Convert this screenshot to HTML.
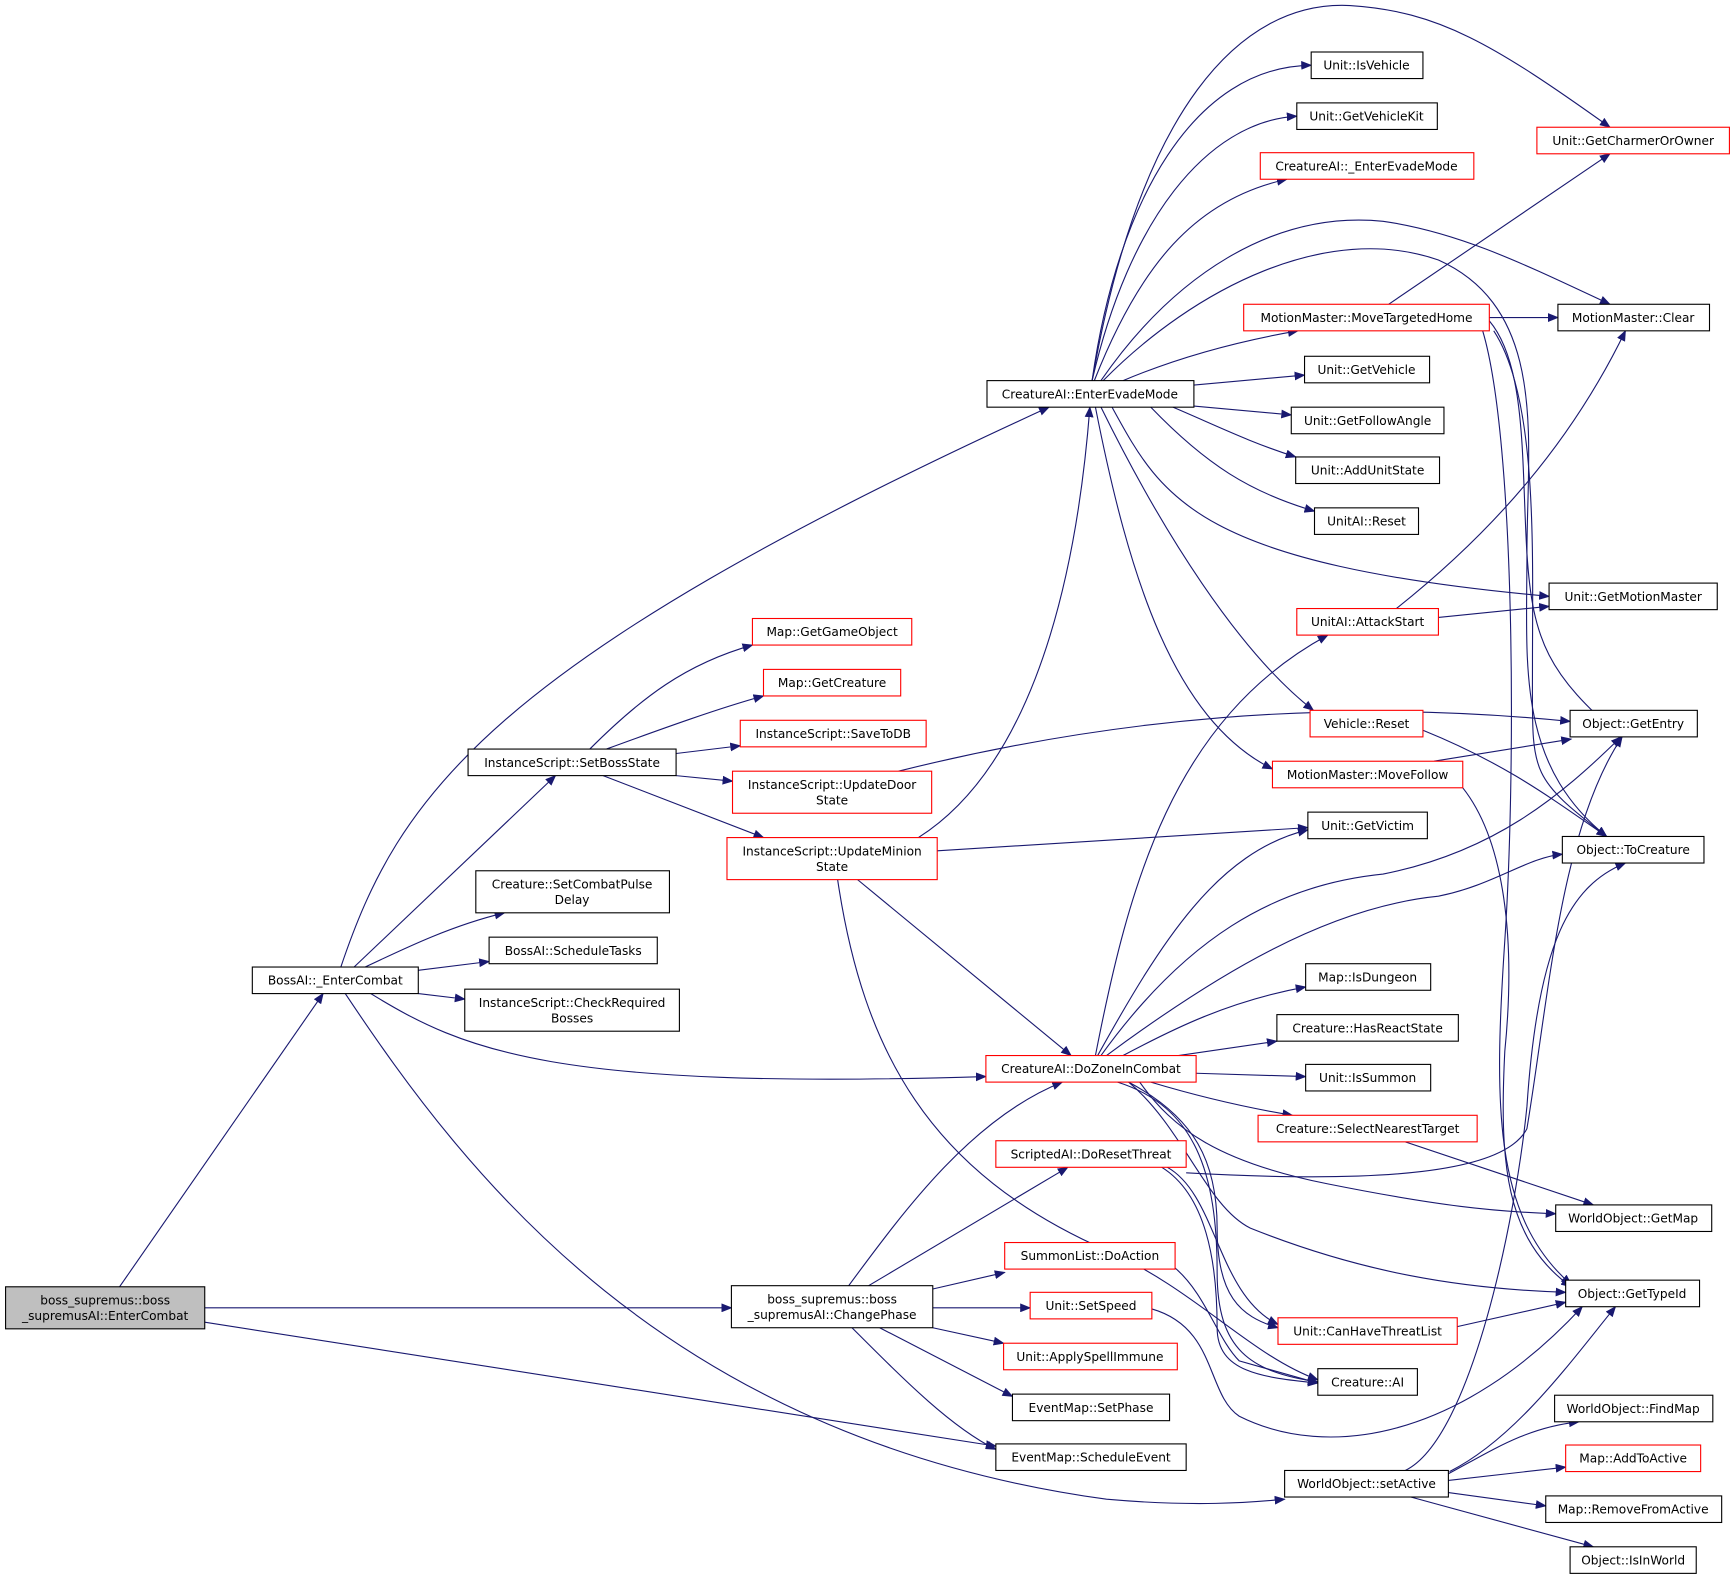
<!DOCTYPE html>
<html><head><meta charset="utf-8"><style>
html,body{margin:0;padding:0;background:#fff;}
svg{display:block}
text{font-family:"DejaVu Sans","Liberation Sans",sans-serif;font-size:11px;fill:#000;text-anchor:middle}
.b{fill:#fff;stroke:#000;stroke-width:1}
.r{fill:#fff;stroke:#f00;stroke-width:1}
.e{fill:none;stroke:#191970;stroke-width:1;marker-end:url(#a)}
</style></head><body>
<svg width="1735" height="1580" viewBox="0 0 1568 1428" xmlns="http://www.w3.org/2000/svg">
<defs><marker id="a" markerWidth="10" markerHeight="8" refX="9" refY="4" orient="auto" markerUnits="userSpaceOnUse"><path d="M0,0 L10,4 L0,8 z" fill="#191970"/></marker></defs>

<!-- edges -->
<path class="e" d="M108,1163 L292,898"/>
<path class="e" d="M185,1182 L661,1182"/>
<path class="e" d="M185,1195 L900,1307"/>
<path class="e" d="M308,874 C360,720 440,600 948,368"/>
<path class="e" d="M320,874 L502,701"/>
<path class="e" d="M330,874 C370,855 410,836 456,825"/>
<path class="e" d="M378,877 L442,869"/>
<path class="e" d="M378,898 L420,903"/>
<path class="e" d="M335,898 C420,950 500,985 891,973"/>
<path class="e" d="M312,898 C420,1060 600,1300 1000,1355 C1080,1362 1130,1358 1161,1355"/>
<path class="e" d="M533,677 C580,630 620,600 680,583"/>
<path class="e" d="M548,677 C600,658 650,640 690,629"/>
<path class="e" d="M611,681 L669,674"/>
<path class="e" d="M611,701 L662,706"/>
<path class="e" d="M545,701 L690,757"/>
<path class="e" d="M812,697 C1000,650 1200,630 1419,652"/>
<path class="e" d="M830,757 C920,700 970,560 985,368"/>
<path class="e" d="M847,769 L1182,748"/>
<path class="e" d="M775,795 L968,954"/>
<path class="e" d="M757,795 C780,950 840,1060 1000,1130 C1080,1165 1130,1225 1191,1247"/>
<path class="e" d="M987,344 C1010,180 1080,60 1185,59"/>
<path class="e" d="M987,344 C1020,200 1090,110 1172,105"/>
<path class="e" d="M989,344 C1030,240 1080,180 1163,162"/>
<path class="e" d="M987,344 C1030,100 1120,0 1220,5 C1300,10 1350,40 1455,115"/>
<path class="e" d="M995,344 C1060,250 1150,190 1250,200 C1320,210 1380,240 1455,275"/>
<path class="e" d="M997,344 C1080,260 1200,200 1300,235 C1400,280 1380,400 1380,500 C1380,600 1370,690 1452,756"/>
<path class="e" d="M1015,344 C1060,325 1110,310 1173,299"/>
<path class="e" d="M1079,348 L1179,339"/>
<path class="e" d="M1079,367 L1167,375"/>
<path class="e" d="M1060,368 C1100,385 1130,400 1171,413"/>
<path class="e" d="M1040,368 C1090,420 1130,445 1188,462"/>
<path class="e" d="M1005,368 C1050,450 1080,510 1400,539"/>
<path class="e" d="M995,368 C1050,480 1120,590 1187,642"/>
<path class="e" d="M990,368 C1020,520 1060,650 1150,695"/>
<path class="e" d="M1346,287 L1408,287"/>
<path class="e" d="M1255,275 L1455,139"/>
<path class="e" d="M1346,290 C1380,330 1375,420 1380,500 C1385,580 1400,610 1465,666"/>
<path class="e" d="M1350,299 C1390,360 1385,500 1385,600 C1385,700 1380,700 1452,756"/>
<path class="e" d="M1340,299 C1370,400 1370,700 1360,850 C1350,1000 1350,1100 1420,1161"/>
<path class="e" d="M1262,550 C1350,480 1420,400 1469,299"/>
<path class="e" d="M1300,558 L1400,548"/>
<path class="e" d="M1286,660 C1360,690 1400,720 1452,756"/>
<path class="e" d="M1296,688 L1420,668"/>
<path class="e" d="M1322,712 C1360,760 1370,850 1360,950 C1355,1050 1360,1120 1420,1163"/>
<path class="e" d="M990,954 C1020,800 1060,650 1200,574"/>
<path class="e" d="M992,954 C1050,850 1100,770 1182,750"/>
<path class="e" d="M995,954 C1070,850 1150,800 1250,790 C1350,770 1410,720 1465,666"/>
<path class="e" d="M1000,954 C1100,880 1200,820 1300,810 C1350,800 1380,775 1412,772"/>
<path class="e" d="M1015,954 C1060,930 1110,905 1180,892"/>
<path class="e" d="M1065,954 L1154,941"/>
<path class="e" d="M1081,970 L1180,973"/>
<path class="e" d="M1040,978 C1080,990 1120,1000 1168,1008"/>
<path class="e" d="M1030,978 C1060,1020 1100,1050 1200,1070 C1300,1090 1350,1095 1406,1097"/>
<path class="e" d="M1020,978 C1070,1020 1090,1090 1130,1110 C1230,1150 1320,1165 1415,1168"/>
<path class="e" d="M1020,978 C1080,1010 1100,1050 1100,1110 C1100,1170 1120,1190 1155,1200"/>
<path class="e" d="M1010,978 C1080,1000 1100,1060 1100,1150 C1100,1220 1130,1240 1191,1249"/>
<path class="e" d="M1270,1032 L1440,1089"/>
<path class="e" d="M1072,1060 C1250,1070 1360,1060 1380,1020 C1400,900 1410,750 1466,666"/>
<path class="e" d="M1055,1055 C1100,1080 1100,1170 1155,1197"/>
<path class="e" d="M1050,1055 C1090,1080 1100,1140 1100,1200 C1100,1240 1140,1245 1191,1250"/>
<path class="e" d="M1317,1199 L1415,1177"/>
<path class="e" d="M1062,1146 C1090,1170 1100,1210 1120,1230 L1191,1250"/>
<path class="e" d="M1041,1183 C1100,1200 1090,1260 1120,1280 C1200,1320 1320,1300 1430,1181"/>
<path class="e" d="M767,1162 C820,1090 880,1010 960,978"/>
<path class="e" d="M785,1162 L965,1055"/>
<path class="e" d="M843,1165 L908,1150"/>
<path class="e" d="M843,1182 L931,1182"/>
<path class="e" d="M843,1200 L907,1214"/>
<path class="e" d="M795,1200 L915,1262"/>
<path class="e" d="M770,1200 C820,1250 860,1290 900,1310"/>
<path class="e" d="M1270,1329 C1330,1300 1370,1100 1380,1000 C1390,850 1420,800 1469,780"/>
<path class="e" d="M1310,1330 C1370,1300 1420,1230 1460,1181"/>
<path class="e" d="M1309,1332 C1350,1310 1380,1290 1427,1285"/>
<path class="e" d="M1309,1338 L1415,1326"/>
<path class="e" d="M1309,1349 L1397,1361"/>
<path class="e" d="M1275,1353 L1440,1398"/>

<!-- nodes -->
<g>
<rect x="5" y="1163" width="180" height="38" fill="#bfbfbf" stroke="#000"/><text x="95" y="1179">boss_supremus::boss</text><text x="95" y="1193">_supremusAI::EnterCombat</text>
<rect class="b" x="228" y="874" width="150" height="24"/><text x="303" y="890">BossAI::_EnterCombat</text>
<rect class="b" x="423" y="677" width="188" height="24"/><text x="517" y="693">InstanceScript::SetBossState</text>
<rect class="b" x="430" y="787" width="175" height="38"/><text x="517" y="803">Creature::SetCombatPulse</text><text x="517" y="817">Delay</text>
<rect class="b" x="442" y="847" width="152" height="24"/><text x="518" y="863">BossAI::ScheduleTasks</text>
<rect class="b" x="420" y="894" width="194" height="38"/><text x="517" y="910">InstanceScript::CheckRequired</text><text x="517" y="924">Bosses</text>
<rect class="b" x="892" y="344" width="187" height="24"/><text x="985" y="360">CreatureAI::EnterEvadeMode</text>
<rect class="r" x="680" y="559" width="144" height="24"/><text x="752" y="575">Map::GetGameObject</text>
<rect class="r" x="690" y="605" width="124" height="24"/><text x="752" y="621">Map::GetCreature</text>
<rect class="r" x="669" y="651" width="168" height="24"/><text x="753" y="667">InstanceScript::SaveToDB</text>
<rect class="r" x="662" y="697" width="180" height="38"/><text x="752" y="713">InstanceScript::UpdateDoor</text><text x="752" y="727">State</text>
<rect class="r" x="657" y="757" width="190" height="38"/><text x="752" y="773">InstanceScript::UpdateMinion</text><text x="752" y="787">State</text>
<rect class="r" x="891" y="954" width="190" height="24"/><text x="986" y="970">CreatureAI::DoZoneInCombat</text>
<rect class="r" x="900" y="1031" width="172" height="24"/><text x="986" y="1047">ScriptedAI::DoResetThreat</text>
<rect class="r" x="908" y="1123" width="154" height="24"/><text x="985" y="1139">SummonList::DoAction</text>
<rect class="r" x="931" y="1168" width="110" height="24"/><text x="986" y="1184">Unit::SetSpeed</text>
<rect class="r" x="907" y="1214" width="157" height="24"/><text x="985" y="1230">Unit::ApplySpellImmune</text>
<rect class="b" x="915" y="1260" width="142" height="24"/><text x="986" y="1276">EventMap::SetPhase</text>
<rect class="b" x="900" y="1305" width="172" height="24"/><text x="986" y="1321">EventMap::ScheduleEvent</text>
<rect class="b" x="661" y="1162" width="182" height="38"/><text x="752" y="1178">boss_supremus::boss</text><text x="752" y="1192">_supremusAI::ChangePhase</text>
<rect class="b" x="1161" y="1329" width="148" height="24"/><text x="1235" y="1345">WorldObject::setActive</text>
<rect class="b" x="1185" y="47" width="101" height="24"/><text x="1235" y="63">Unit::IsVehicle</text>
<rect class="b" x="1172" y="93" width="127" height="24"/><text x="1235" y="109">Unit::GetVehicleKit</text>
<rect class="r" x="1139" y="138" width="193" height="24"/><text x="1235" y="154">CreatureAI::_EnterEvadeMode</text>
<rect class="r" x="1124" y="275" width="222" height="24"/><text x="1235" y="291">MotionMaster::MoveTargetedHome</text>
<rect class="b" x="1179" y="322" width="113" height="24"/><text x="1235" y="338">Unit::GetVehicle</text>
<rect class="b" x="1167" y="368" width="138" height="24"/><text x="1236" y="384">Unit::GetFollowAngle</text>
<rect class="b" x="1171" y="413" width="130" height="24"/><text x="1236" y="429">Unit::AddUnitState</text>
<rect class="b" x="1188" y="459" width="94" height="24"/><text x="1235" y="475">UnitAI::Reset</text>
<rect class="r" x="1172" y="550" width="128" height="24"/><text x="1236" y="566">UnitAI::AttackStart</text>
<rect class="r" x="1184" y="642" width="102" height="24"/><text x="1235" y="658">Vehicle::Reset</text>
<rect class="r" x="1150" y="688" width="172" height="24"/><text x="1236" y="704">MotionMaster::MoveFollow</text>
<rect class="b" x="1182" y="734" width="108" height="24"/><text x="1236" y="750">Unit::GetVictim</text>
<rect class="b" x="1180" y="871" width="113" height="24"/><text x="1236" y="887">Map::IsDungeon</text>
<rect class="b" x="1154" y="917" width="164" height="24"/><text x="1236" y="933">Creature::HasReactState</text>
<rect class="b" x="1180" y="962" width="113" height="24"/><text x="1236" y="978">Unit::IsSummon</text>
<rect class="r" x="1137" y="1008" width="198" height="24"/><text x="1236" y="1024">Creature::SelectNearestTarget</text>
<rect class="r" x="1155" y="1191" width="162" height="24"/><text x="1236" y="1207">Unit::CanHaveThreatList</text>
<rect class="b" x="1191" y="1237" width="90" height="24"/><text x="1236" y="1253">Creature::AI</text>
<rect class="r" x="1389" y="115" width="174" height="24"/><text x="1476" y="131">Unit::GetCharmerOrOwner</text>
<rect class="b" x="1408" y="275" width="137" height="24"/><text x="1476" y="291">MotionMaster::Clear</text>
<rect class="b" x="1400" y="527" width="152" height="24"/><text x="1476" y="543">Unit::GetMotionMaster</text>
<rect class="b" x="1419" y="642" width="115" height="24"/><text x="1476" y="658">Object::GetEntry</text>
<rect class="b" x="1412" y="756" width="128" height="24"/><text x="1476" y="772">Object::ToCreature</text>
<rect class="b" x="1406" y="1089" width="141" height="24"/><text x="1476" y="1105">WorldObject::GetMap</text>
<rect class="b" x="1415" y="1157" width="121" height="24"/><text x="1475" y="1173">Object::GetTypeId</text>
<rect class="b" x="1405" y="1261" width="143" height="24"/><text x="1476" y="1277">WorldObject::FindMap</text>
<rect class="r" x="1415" y="1306" width="122" height="24"/><text x="1476" y="1322">Map::AddToActive</text>
<rect class="b" x="1397" y="1352" width="159" height="24"/><text x="1476" y="1368">Map::RemoveFromActive</text>
<rect class="b" x="1419" y="1398" width="114" height="24"/><text x="1476" y="1414">Object::IsInWorld</text>
</g>
</svg>
</body></html>
